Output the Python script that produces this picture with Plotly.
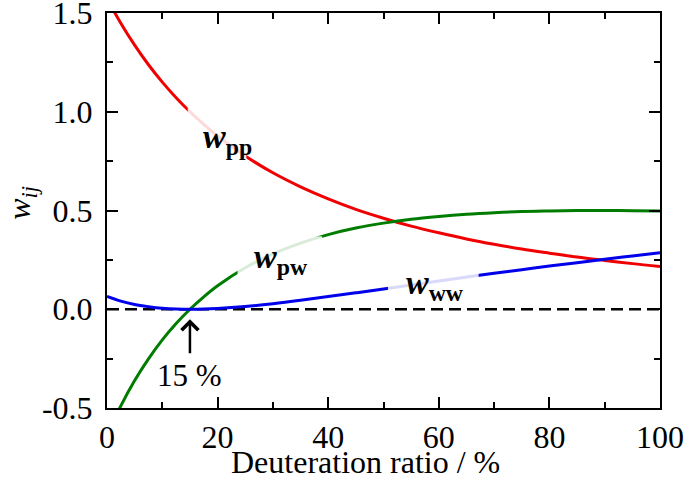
import plotly.graph_objects as go

# Deuteration ratio (%)
x_vals = [0, 2.5, 5, 7.5, 10, 12.5, 15, 17.5, 20, 25, 30, 35, 40, 45, 50,
          55, 60, 65, 70, 75, 80, 85, 90, 95, 100]
w_pp = [1.573, 1.448, 1.337, 1.238, 1.150, 1.071, 1.000, 0.936, 0.877, 0.776,
        0.691, 0.620, 0.559, 0.506, 0.461, 0.421, 0.387, 0.356, 0.329, 0.305,
        0.284, 0.264, 0.247, 0.231, 0.217]
w_pw = [-0.638, -0.489, -0.361, -0.251, -0.155, -0.072, 0.000, 0.063, 0.119,
        0.210, 0.280, 0.335, 0.378, 0.411, 0.436, 0.456, 0.470, 0.481, 0.489,
        0.495, 0.498, 0.500, 0.500, 0.499, 0.498]
w_ww = [0.065, 0.041, 0.024, 0.013, 0.005, 0.001, 0.000, 0.001, 0.004, 0.014,
        0.028, 0.045, 0.064, 0.083, 0.103, 0.123, 0.143, 0.163, 0.182, 0.200,
        0.219, 0.236, 0.253, 0.270, 0.286]
zero_x = [0, 100]
zero_y = [0, 0]

x_ticks = [0, 20, 40, 60, 80, 100]
x_ticktext = ["0", "20", "40", "60", "80", "100"]
y_ticks = [-0.5, 0.0, 0.5, 1.0, 1.5]
y_ticktext = ["-0.5", "0.0", "0.5", "1.0", "1.5"]

FONT = "Liberation Serif, Times New Roman, serif"
RED = "rgb(240,0,0)"
GREEN = "rgb(0,125,0)"
BLUE = "rgb(0,0,235)"

fig = go.Figure()
fig.add_trace(go.Scatter(x=zero_x, y=zero_y, mode="lines",
                         line=dict(color="black", width=2.5, dash="12px,6px"),
                         showlegend=False, hoverinfo="skip"))
fig.add_trace(go.Scatter(x=x_vals, y=w_pp, mode="lines",
                         line=dict(color=RED, width=3, shape="spline"),
                         showlegend=False))
fig.add_trace(go.Scatter(x=x_vals, y=w_pw, mode="lines",
                         line=dict(color=GREEN, width=3, shape="spline"),
                         showlegend=False))
fig.add_trace(go.Scatter(x=x_vals, y=w_ww, mode="lines",
                         line=dict(color=BLUE, width=3, shape="spline"),
                         showlegend=False))

axis_common = dict(
    showline=True, linewidth=2, linecolor="black", mirror="ticks",
    ticks="inside", ticklen=11, tickwidth=2, tickcolor="black",
    showgrid=False, zeroline=False, automargin=False,
    ticklabeloverflow="allow",
    tickfont=dict(family=FONT, size=32, color="black"),
)

fig.update_xaxes(range=[0, 100], tickvals=x_ticks, ticktext=x_ticktext,
                 minor=dict(dtick=10, tick0=0, ticks="inside", ticklen=6,
                            tickwidth=2, tickcolor="black", showgrid=False),
                 ticklabelstandoff=0, **axis_common)
fig.update_yaxes(range=[-0.5, 1.5], tickvals=y_ticks, ticktext=y_ticktext,
                 minor=dict(dtick=0.25, tick0=0, ticks="inside", ticklen=6,
                            tickwidth=2, tickcolor="black", showgrid=False),
                 ticklabelstandoff=6, **axis_common)

# light veils behind the curve labels (line fades under each label)
veil = dict(type="rect", xref="x", yref="y", layer="above",
            fillcolor="rgba(255,255,255,0.85)", line=dict(width=0))
shapes = [
    dict(veil, x0=14.6, x1=25.2, y0=0.74, y1=1.02),
    dict(veil, x0=23.6, x1=38.9, y0=0.17, y1=0.37),
    dict(veil, x0=50.8, x1=67.2, y0=0.08, y1=0.20),
]

annotations = [
    dict(x=21.8, y=0.86, xref="x", yref="y", showarrow=False,
         text="<b><i>w</i></b><b><sub>pp</sub></b>",
         font=dict(family=FONT, size=34, color="black")),
    dict(x=31.4, y=0.255, xref="x", yref="y", showarrow=False,
         text="<b><i>w</i></b><b><sub>pw</sub></b>",
         font=dict(family=FONT, size=34, color="black")),
    dict(x=59.3, y=0.125, xref="x", yref="y", showarrow=False,
         text="<b><i>w</i></b><b><sub>ww</sub></b>",
         font=dict(family=FONT, size=34, color="black")),
    dict(x=15, y=-0.05, ax=15, ay=-0.23, xref="x", yref="y", axref="x",
         ayref="y", text="", showarrow=True, arrowhead=4, arrowsize=1.3,
         arrowwidth=2.5, arrowcolor="black"),
    dict(x=15, y=-0.335, xref="x", yref="y", showarrow=False, text="15 %",
         font=dict(family=FONT, size=31, color="black")),
    dict(x=0.468, y=-0.137, xref="paper", yref="paper", showarrow=False,
         text="Deuteration ratio / %", xanchor="center", yanchor="middle",
         font=dict(family=FONT, size=32, color="black")),
    dict(x=-0.154, y=0.519, xref="paper", yref="paper", showarrow=False,
         text="<i>w</i><sub><i>ij</i></sub>", textangle=-90,
         xanchor="center", yanchor="middle",
         font=dict(family=FONT, size=32, color="black")),
]

fig.update_layout(
    width=685, height=501,
    margin=dict(l=107, r=25, t=13, b=93, autoexpand=False),
    paper_bgcolor="white", plot_bgcolor="white",
    annotations=annotations,
    shapes=shapes,
    showlegend=False,
)

fig.write_html(
    "out.html",
    config={"displayModeBar": False},
    post_script="document.body.style.margin='0';document.body.style.padding='0';"
                "document.body.style.overflow='hidden';",
)
